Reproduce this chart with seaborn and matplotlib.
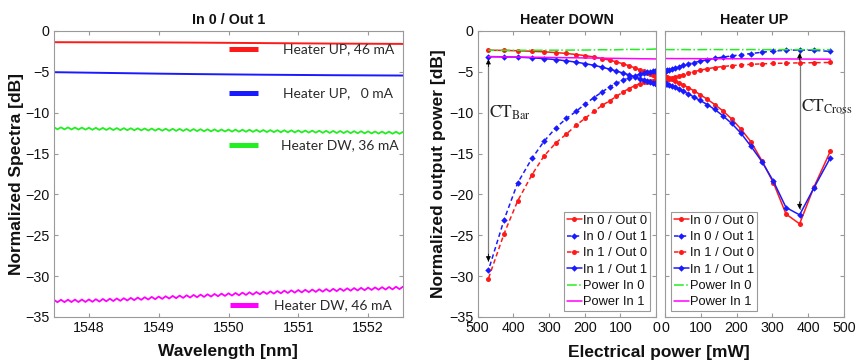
import matplotlib
matplotlib.use("Agg")
import matplotlib.pyplot as plt
import seaborn as sns
from matplotlib.lines import Line2D

# ---------------- Left panel: spectra (In 0 / Out 1) ----------------
wl_coarse = [1547.5, 1548.0, 1548.5, 1549.0, 1549.5, 1550.0, 1550.5, 1551.0, 1551.5, 1552.0, 1552.5]
spec_up46 = [-1.37, -1.38, -1.39, -1.40, -1.42, -1.45, -1.48, -1.51, -1.54, -1.56, -1.58]
spec_up0 = [-5.04, -5.10, -5.16, -5.22, -5.27, -5.31, -5.35, -5.38, -5.41, -5.43, -5.45]

wl_fine = [
    1547.50, 1547.55, 1547.60, 1547.65, 1547.70, 1547.75, 1547.80, 1547.85, 1547.90, 1547.95,
    1548.00, 1548.05, 1548.10, 1548.15, 1548.20, 1548.25, 1548.30, 1548.35, 1548.40, 1548.45,
    1548.50, 1548.55, 1548.60, 1548.65, 1548.70, 1548.75, 1548.80, 1548.85, 1548.90, 1548.95,
    1549.00, 1549.05, 1549.10, 1549.15, 1549.20, 1549.25, 1549.30, 1549.35, 1549.40, 1549.45,
    1549.50, 1549.55, 1549.60, 1549.65, 1549.70, 1549.75, 1549.80, 1549.85, 1549.90, 1549.95,
    1550.00, 1550.05, 1550.10, 1550.15, 1550.20, 1550.25, 1550.30, 1550.35, 1550.40, 1550.45,
    1550.50, 1550.55, 1550.60, 1550.65, 1550.70, 1550.75, 1550.80, 1550.85, 1550.90, 1550.95,
    1551.00, 1551.05, 1551.10, 1551.15, 1551.20, 1551.25, 1551.30, 1551.35, 1551.40, 1551.45,
    1551.50, 1551.55, 1551.60, 1551.65, 1551.70, 1551.75, 1551.80, 1551.85, 1551.90, 1551.95,
    1552.00, 1552.05, 1552.10, 1552.15, 1552.20, 1552.25, 1552.30, 1552.35, 1552.40, 1552.45,
    1552.50]
spec_dw36 = [
    -11.78, -12.03, -11.79, -12.04, -11.80, -12.05, -11.81, -12.06, -11.82, -12.07,
    -11.84, -12.09, -11.85, -12.10, -11.86, -12.11, -11.87, -12.12, -11.88, -12.13,
    -11.89, -12.14, -11.90, -12.15, -11.91, -12.16, -11.93, -12.18, -11.94, -12.19,
    -11.95, -12.20, -11.96, -12.21, -11.97, -12.22, -11.98, -12.23, -11.99, -12.24,
    -12.00, -12.25, -12.02, -12.27, -12.03, -12.28, -12.04, -12.29, -12.05, -12.30,
    -12.06, -12.31, -12.07, -12.32, -12.08, -12.33, -12.09, -12.34, -12.10, -12.35,
    -12.12, -12.37, -12.13, -12.38, -12.14, -12.39, -12.15, -12.40, -12.16, -12.41,
    -12.17, -12.42, -12.18, -12.43, -12.19, -12.44, -12.21, -12.46, -12.22, -12.47,
    -12.23, -12.48, -12.24, -12.49, -12.25, -12.50, -12.26, -12.51, -12.27, -12.52,
    -12.28, -12.53, -12.30, -12.55, -12.31, -12.56, -12.32, -12.57, -12.33, -12.58,
    -12.34]
spec_dw46 = [
    -32.90, -33.19, -32.89, -33.18, -32.88, -33.17, -32.87, -33.17, -32.86, -33.16,
    -32.85, -33.14, -32.82, -33.11, -32.79, -33.08, -32.76, -33.05, -32.73, -33.02,
    -32.70, -32.98, -32.66, -32.94, -32.62, -32.90, -32.58, -32.86, -32.54, -32.82,
    -32.50, -32.78, -32.46, -32.74, -32.42, -32.70, -32.38, -32.66, -32.34, -32.62,
    -32.30, -32.58, -32.26, -32.54, -32.22, -32.50, -32.18, -32.46, -32.14, -32.42,
    -32.10, -32.38, -32.06, -32.34, -32.02, -32.30, -31.98, -32.26, -31.94, -32.22,
    -31.90, -32.18, -31.86, -32.14, -31.82, -32.10, -31.78, -32.06, -31.74, -32.02,
    -31.70, -31.99, -31.67, -31.96, -31.64, -31.93, -31.61, -31.90, -31.58, -31.87,
    -31.55, -31.84, -31.52, -31.81, -31.49, -31.78, -31.46, -31.75, -31.43, -31.72,
    -31.40, -31.69, -31.38, -31.66, -31.35, -31.64, -31.33, -31.62, -31.30, -31.59,
    -31.28]

spec_labels = ["Heater UP, 46 mA", "Heater UP,   0 mA", "Heater DW, 36 mA", "Heater DW, 46 mA"]

# ---------------- Right panels: output power vs electrical power ----------------
power_down = [0, 1, 4, 9, 16, 25, 35, 46, 60, 76, 92, 111, 130, 151, 174, 198, 223, 251, 281, 314, 348, 388, 426, 470]
down_in0_out0 = [-5.55, -5.53, -5.45, -5.35, -5.22, -5.08, -4.92, -4.72, -4.50, -4.25, -4.02, -3.78,
                 -3.57, -3.37, -3.18, -3.02, -2.88, -2.75, -2.64, -2.55, -2.48, -2.42, -2.38, -2.35]
down_in0_out1 = [-4.92, -4.92, -4.93, -4.95, -5.00, -5.05, -5.15, -5.30, -5.50, -5.72, -6.02, -6.40,
                 -6.85, -7.45, -8.15, -8.90, -9.80, -10.70, -11.85, -13.50, -15.60, -18.60, -23.10, -29.30]
down_in1_out0 = [-6.05, -6.05, -6.07, -6.10, -6.13, -6.20, -6.30, -6.45, -6.70, -7.05, -7.45, -8.00,
                 -8.55, -9.10, -9.85, -10.65, -11.50, -12.60, -13.70, -15.30, -17.60, -20.80, -24.80, -30.30]
down_in1_out1 = [-6.45, -6.45, -6.42, -6.36, -6.28, -6.15, -6.00, -5.82, -5.60, -5.37, -5.15, -4.90,
                 -4.67, -4.43, -4.20, -4.00, -3.82, -3.65, -3.50, -3.38, -3.28, -3.20, -3.16, -3.13]
down_power_in0 = [-2.20, -2.20, -2.21, -2.22, -2.23, -2.24, -2.25, -2.26, -2.26, -2.25, -2.27, -2.30,
                  -2.30, -2.29, -2.31, -2.33, -2.33, -2.34, -2.35, -2.35, -2.36, -2.36, -2.36, -2.36]
down_power_in1 = [-3.42, -3.42, -3.42, -3.41, -3.41, -3.40, -3.40, -3.39, -3.38, -3.37, -3.36, -3.35,
                  -3.34, -3.33, -3.31, -3.30, -3.28, -3.27, -3.25, -3.23, -3.21, -3.19, -3.17, -3.15]

power_up = [0, 0.4, 2.4, 6, 12, 19, 28, 38, 51, 65, 81, 98, 118, 139, 161, 186, 212, 240, 271, 303, 338, 376, 416, 462]
up_in0_out0 = [-5.55, -5.57, -5.60, -5.67, -5.78, -5.92, -6.10, -6.31, -6.60, -6.92, -7.32, -7.78,
               -8.35, -9.00, -9.75, -10.75, -12.00, -13.55, -15.90, -18.60, -22.40, -23.60, -19.10, -14.70]
up_in0_out1 = [-4.86, -4.86, -4.84, -4.80, -4.72, -4.62, -4.50, -4.36, -4.20, -4.04, -3.86, -3.70,
               -3.52, -3.35, -3.20, -3.05, -2.90, -2.76, -2.60, -2.45, -2.36, -2.33, -2.36, -2.50]
up_in1_out0 = [-5.97, -5.97, -5.95, -5.92, -5.85, -5.76, -5.63, -5.50, -5.33, -5.15, -4.97, -4.80,
               -4.62, -4.47, -4.35, -4.24, -4.15, -4.08, -4.02, -3.97, -3.93, -3.90, -3.88, -3.85]
up_in1_out1 = [-6.40, -6.41, -6.44, -6.50, -6.60, -6.73, -6.90, -7.10, -7.38, -7.70, -8.08, -8.50,
               -9.00, -9.60, -10.35, -11.30, -12.50, -14.10, -16.00, -18.40, -21.60, -22.50, -19.20, -15.50]
up_power_in0 = [-2.27, -2.27, -2.27, -2.27, -2.28, -2.28, -2.27, -2.27, -2.27, -2.28, -2.28, -2.28,
                -2.27, -2.27, -2.28, -2.28, -2.28, -2.27, -2.28, -2.28, -2.28, -2.28, -2.28, -2.29]
up_power_in1 = [-3.37, -3.37, -3.37, -3.37, -3.37, -3.37, -3.38, -3.38, -3.38, -3.38, -3.38, -3.39,
                -3.39, -3.39, -3.40, -3.40, -3.40, -3.41, -3.41, -3.42, -3.42, -3.43, -3.44, -3.45]

series_labels = ["In 0 / Out 0", "In 0 / Out 1", "In 1 / Out 0", "In 1 / Out 1", "Power In 0", "Power In 1"]

# ---------------- styling ----------------
sns.set_theme(style="ticks")
plt.rcParams["font.family"] = ["Liberation Sans", "DejaVu Sans"]
plt.rcParams["mathtext.fontset"] = "stix"

RED, BLUE, GREEN, MAG = "#ff1a1a", "#1a1aff", "#22ee22", "#ff00ff"
FRAME = "#9a9a9a"
TXT = "#111111"
TICK_FS = 10.3
LAB_FS = 12.5
TITLE_FS = 10.3
LEG_FS = 9.3

W, H = 856, 361
fig = plt.figure(figsize=(W / 100, H / 100), dpi=100)
fig.patch.set_facecolor("white")
bot = (H - 317) / H
hgt = (317 - 31) / H
axL = fig.add_axes([54 / W, bot, 349 / W, hgt])
axD = fig.add_axes([477.7 / W, bot, 178.3 / W, hgt])
axU = fig.add_axes([665 / W, bot, 179 / W, hgt])


def style(ax):
    for s in ax.spines.values():
        s.set_color(FRAME)
        s.set_linewidth(0.8)
        s.set_visible(True)
    ax.tick_params(direction="in", length=3, width=0.8, color=FRAME, top=True, right=True,
                   labelsize=TICK_FS, labelcolor=TXT, pad=3)
    ax.set_facecolor("white")


for ax in (axL, axD, axU):
    style(ax)

# left panel
sns.lineplot(x=wl_coarse, y=spec_up46, ax=axL, color=RED, linewidth=1.4, legend=False, sort=False, estimator=None)
sns.lineplot(x=wl_coarse, y=spec_up0, ax=axL, color=BLUE, linewidth=1.4, legend=False, sort=False, estimator=None)
sns.lineplot(x=wl_fine, y=spec_dw36, ax=axL, color=GREEN, linewidth=1.3, legend=False, sort=False, estimator=None)
sns.lineplot(x=wl_fine, y=spec_dw46, ax=axL, color=MAG, linewidth=1.3, legend=False, sort=False, estimator=None)
axL.set_xlim(1547.5, 1552.5)
axL.set_ylim(-35, 0)
axL.set_xticks([1548, 1549, 1550, 1551, 1552])
axL.set_yticks([-35, -30, -25, -20, -15, -10, -5, 0])
axL.set_title("In 0 / Out 1", fontsize=TITLE_FS, fontweight="bold", pad=5, color=TXT)
axL.set_xlabel("Wavelength [nm]", fontsize=LAB_FS, fontweight="bold", color=TXT)
axL.set_ylabel("Normalized Spectra [dB]", fontsize=LAB_FS, fontweight="bold", color=TXT)
axL.yaxis.label.set_verticalalignment("center")
axL.xaxis.label.set_verticalalignment("center")
axL.yaxis.set_label_coords(-0.108, 0.5)
axL.xaxis.set_label_coords(0.497, -0.122)

# pseudo-legend entries of left panel (axes-fraction positions)
entries = [(0.937, RED, 0.5006, 0.5837, 0.656), (0.782, BLUE, 0.5006, 0.5837, 0.656),
           (0.601, GREEN, 0.5006, 0.5837, 0.650), (0.042, MAG, 0.504, 0.585, 0.630)]
for (yy, col, x0, x1, xt), lab in zip(entries, spec_labels):
    axL.plot([x0, x1], [yy, yy], transform=axL.transAxes, color=col, lw=3.6, solid_capstyle="butt")
    axL.text(xt, yy, lab, transform=axL.transAxes, ha="left", va="center", fontsize=10,
             family=["Lato", "DejaVu Sans"], color="#2a2a2a")

# right panels
styles = [
    (RED, "-", "o", 3.6),
    (BLUE, (0, (3, 2)), "D", 3.3),
    (RED, (0, (3, 2)), "o", 3.6),
    (BLUE, "-", "D", 3.3),
    (GREEN, "-.", None, 0),
    (MAG, "-", None, 0),
]


def draw_panel(ax, pw, ys):
    for (col, ls, mk, ms), y, lab in zip(styles, ys, series_labels):
        kw = dict(color=col, linestyle=ls, linewidth=1.1, legend=False, sort=False,
                  estimator=None, label=lab)
        if mk is not None:
            kw.update(marker=mk, markersize=ms, markeredgewidth=0, markeredgecolor=col,
                      markerfacecolor=col)
        sns.lineplot(x=pw, y=y, ax=ax, **kw)
    ax.set_ylim(-35, 0)
    ax.set_yticks([-35, -30, -25, -20, -15, -10, -5, 0])
    ax.set_xticks([0, 100, 200, 300, 400, 500])
    ax.set_xlabel("")
    handles = []
    for (col, ls, mk, ms), lab in zip(styles, series_labels):
        handles.append(Line2D([], [], color=col, linestyle=ls, linewidth=1.1, marker=mk,
                              markersize=ms, markeredgewidth=0, markerfacecolor=col, label=lab))
    return handles


hD = draw_panel(axD, power_down, [down_in0_out0, down_in0_out1, down_in1_out0, down_in1_out1,
                                  down_power_in0, down_power_in1])
hU = draw_panel(axU, power_up, [up_in0_out0, up_in0_out1, up_in1_out0, up_in1_out1,
                                up_power_in0, up_power_in1])
axD.set_xlim(500, 0)
axU.set_xlim(0, 500)
axU.tick_params(labelleft=False)
axD.set_title("Heater DOWN", fontsize=TITLE_FS, fontweight="bold", pad=5, color=TXT)
axU.set_title("Heater UP", fontsize=TITLE_FS, fontweight="bold", pad=5, color=TXT)
axD.set_ylabel("Normalized output power [dB]", fontsize=LAB_FS, fontweight="bold", color=TXT)
axD.yaxis.label.set_verticalalignment("center")
axD.yaxis.set_label_coords(-0.222, 0.5)
axU.set_ylabel("")
fig.text(659 / W, 1 - 352 / H, "Electrical power [mW]", ha="center", va="center",
         fontsize=LAB_FS, fontweight="bold", color=TXT)

leg_kw = dict(fontsize=LEG_FS, frameon=True, fancybox=False, edgecolor=FRAME, framealpha=1,
              borderpad=0.22, labelspacing=0.33, handlelength=1.16, handletextpad=0.1,
              borderaxespad=0.45, numpoints=1)
for ax, hs, loc in ((axD, hD, "lower right"), (axU, hU, "lower left")):
    lg = ax.legend(handles=hs, loc=loc, **leg_kw)
    lg.get_frame().set_linewidth(0.8)
    for t in lg.get_texts():
        t.set_color(TXT)


# crosstalk arrows and labels
def ct_arrow(ax, x, ytop, ybot):
    ax.plot([x, x], [ytop, ybot], color="#7a7a7a", lw=0.9, zorder=1)
    for yh, yt in ((ytop, ytop - 0.9), (ybot, ybot + 0.9)):
        ax.annotate("", xy=(x, yh), xytext=(x, yt),
                    arrowprops=dict(arrowstyle="-|>", color="black", lw=0.6,
                                    mutation_scale=7, shrinkA=0, shrinkB=0))


ct_arrow(axD, 470, -3.45, -28.2)
ct_arrow(axU, 376, -2.7, -21.8)
axD.text(468, -10.0, r"$\mathrm{CT}_{\mathrm{Bar}}$", ha="left", va="center", fontsize=12.5, color="#222222")
axU.text(380, -9.3, r"$\mathrm{CT}_{\mathrm{Cross}}$", ha="left", va="center", fontsize=12.5, color="#222222")

fig.savefig("out.png", dpi=100, facecolor="white")
